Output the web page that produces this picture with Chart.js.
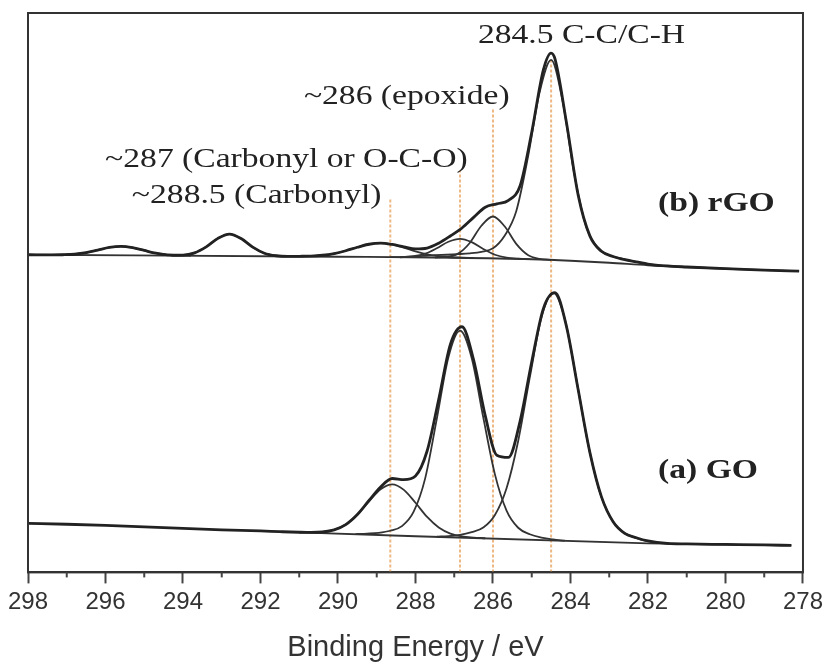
<!DOCTYPE html>
<html>
<head>
<meta charset="utf-8">
<script src="https://cdn.jsdelivr.net/npm/chart.js@4.4.1/dist/chart.umd.min.js"></script>
<style>
  html, body { margin: 0; padding: 0; background: #fff; }
  #wrap { width: 828px; height: 665px; }
</style>
</head>
<body>
<div id="wrap"><canvas id="xps" width="828" height="665"></canvas></div>
<script>
// C 1s spectra, binding energy (eV) vs intensity (arbitrary units, traces offset)

// (a) GO
const goEnergy = [298, 297, 296, 295, 294, 293, 292, 291.5, 291.0, 290.7, 290.4, 290.1, 289.8, 289.5, 289.2, 288.9, 288.6, 288.3, 288.0, 287.7, 287.4, 287.1, 286.8, 286.5, 286.2, 285.9, 285.6, 285.3, 285.0, 284.7, 284.4, 284.1, 283.8, 283.5, 283.2, 282.9, 282.6, 282.3, 282.0, 281.5, 281.0, 280.0, 279.0, 278.3];
const goTotal = [49.0, 48.2, 47.0, 45.6, 44.0, 42.6, 41.5, 40.8, 40.2, 40.0, 40.5, 42.6, 47.9, 58.0, 72.0, 85.5, 94.0, 92.8, 96.5, 121.5, 173.3, 228.2, 245.9, 212.7, 156.9, 117.3, 115.1, 151.5, 210.9, 264.1, 280.0, 245.6, 182.5, 120.2, 75.6, 50.7, 39.1, 34.7, 31.5, 29.0, 28.5, 28.0, 27.5, 27.0];

const goPeak1Energy = [291.0, 290.7, 290.4, 290.1, 289.8, 289.5, 289.2, 288.9, 288.6, 288.3, 288.0, 287.7, 287.4, 287.1, 286.8, 286.5, 286.2];
const goPeak1 = [40.1, 40.0, 40.5, 42.6, 47.9, 57.8, 71.2, 83.3, 88.2, 82.6, 69.7, 55.5, 45.0, 38.9, 36.0, 34.9, 34.2];

const goPeak2Energy = [289.55, 289.25, 288.95, 288.65, 288.35, 288.05, 287.75, 287.45, 287.15, 286.85, 286.55, 286.25, 285.95, 285.65, 285.35, 285.05, 284.75, 284.45, 284.15];
const goPeak2 = [38.3, 38.8, 39.6, 41.7, 46.3, 60.5, 94.1, 153.7, 215.4, 242.0, 214.6, 154.9, 98.1, 61.9, 44.7, 38.2, 34.9, 33.0, 31.7];

const goPeak3Energy = [287.45, 287.15, 286.85, 286.55, 286.25, 285.95, 285.65, 285.35, 285.05, 284.75, 284.45, 284.15, 283.85, 283.55, 283.25, 282.95, 282.65, 282.35, 282.05, 281.75, 281.45];
const goPeak3 = [35.7, 36.4, 37.5, 40.3, 44.9, 57.5, 84.3, 131.6, 195.2, 254.9, 280.0, 254.2, 193.7, 129.4, 81.3, 53.8, 40.5, 35.1, 31.6, 29.9, 28.7];

const goBaseEnergy = [291.0, 282.0, 278.3];
const goBase = [40.1, 29.0, 27.0];

// (b) rGO
const rgoEnergy = [298, 297.4, 297.1, 296.8, 296.5, 296.2, 295.9, 295.6, 295.3, 295.0, 294.7, 294.4, 294.0, 293.7, 293.4, 293.1, 292.8, 292.5, 292.2, 291.9, 291.6, 291.3, 291.0, 290.7, 290.4, 290.1, 289.8, 289.5, 289.2, 288.9, 288.6, 288.3, 288.0, 287.7, 287.4, 287.1, 286.8, 286.5, 286.2, 285.9, 285.6, 285.3, 285.0, 284.7, 284.5, 284.4, 284.1, 283.8, 283.5, 283.2, 282.9, 282.6, 282.3, 282.0, 281.5, 281.0, 280.0, 279.0, 278.1];
const rgoTotal = [318.0, 317.9, 318.0, 318.5, 320.0, 322.6, 325.3, 326.4, 325.1, 322.3, 319.6, 317.9, 317.7, 319.9, 325.9, 334.4, 338.7, 334.2, 325.6, 319.5, 317.0, 316.3, 316.45, 316.7, 317.5, 319.2, 322.0, 325.5, 328.5, 329.6, 328.3, 325.9, 323.85, 324.7, 329.6, 336.8, 344.8, 355.4, 365.5, 369.0, 372.5, 387.1, 440.6, 503.0, 519.8, 514.0, 449.4, 377.4, 336.9, 321.5, 316.2, 313.0, 310.9, 308.7, 306.8, 305.75, 304.0, 302.7, 301.5];

const rgoPeak1Energy = [297.4, 297.1, 296.8, 296.5, 296.2, 295.9, 295.6, 295.3, 295.0, 294.7, 294.4, 294.1, 293.8];
const rgoPeak1 = [317.9, 318.0, 318.5, 320.0, 322.6, 325.3, 326.4, 325.1, 322.3, 319.6, 317.9, 317.2, 317.0];

const rgoPeak2Energy = [294.3, 294.0, 293.7, 293.4, 293.1, 292.8, 292.5, 292.2, 291.9, 291.6, 291.3];
const rgoPeak2 = [317.1, 317.6, 319.9, 325.9, 334.4, 338.7, 334.2, 325.6, 319.5, 317.0, 316.3];

const rgoPeak3Energy = [291.3, 291.0, 290.7, 290.4, 290.1, 289.8, 289.5, 289.2, 288.9, 288.6, 288.3, 288.0, 287.7, 287.4, 287.1, 286.8, 286.5];
const rgoPeak3 = [316.3, 316.5, 316.7, 317.5, 319.2, 322.0, 325.5, 328.5, 329.6, 328.3, 325.1, 321.4, 318.4, 316.5, 315.5, 315.1, 314.6];

const rgoPeak4Energy = [288.65, 288.35, 288.05, 287.75, 287.45, 287.15, 286.85, 286.55, 286.25, 285.95, 285.65, 285.35, 285.05];
const rgoPeak4 = [315.6, 315.7, 316.5, 319.1, 324.5, 331.0, 333.9, 330.6, 323.7, 318.0, 315.1, 314.0, 313.6];

const rgoPeak5Energy = [287.5, 287.2, 286.9, 286.6, 286.3, 286.0, 285.7, 285.4, 285.1, 284.8, 284.5];
const rgoPeak5 = [315.2, 315.8, 319.1, 329.8, 347.0, 356.3, 346.5, 328.9, 317.8, 313.9, 312.8];

const rgoPeak6Energy = [288.4, 288.1, 287.8, 287.5, 287.2, 286.9, 286.6, 286.3, 286.0, 285.7, 285.4, 285.1, 284.8, 284.5, 284.2, 283.9, 283.6, 283.3, 283.0, 282.7, 282.4, 282.0, 281.6];
const rgoPeak6 = [315.5, 316.2, 316.8, 317.6, 318.0, 318.6, 319.4, 320.9, 324.4, 337.0, 361.6, 415.2, 480.0, 513.0, 471.0, 398.5, 346.8, 324.9, 317.5, 314.3, 311.5, 308.7, 306.8];

const rgoBaseEnergy = [298, 290, 287, 285, 284, 283, 282, 280, 278.1];
const rgoBase = [318, 316, 315, 313.5, 312, 310, 307.5, 304, 301.5];

// reference lines for the assigned binding energies
const markerEnergy = [288.65, 286.85, 286.0, 284.5];
const markerTop = [375, 402, 465, 515];

const energyTicks = [298, 296, 294, 292, 290, 288, 286, 284, 282, 280, 278];
const minorTicks = [297, 295, 293, 291, 289, 287, 285, 283, 281, 279];

// text annotations (anchor = left edge, vertical centre, in data units)
const notes = [
  { text: '284.5 C-C/C-H', x: 286.39, y: 537, bold: false },
  { text: '~286 (epoxide)', x: 290.88, y: 476, bold: false },
  { text: '~287 (Carbonyl or O-C-O)', x: 296.01, y: 413, bold: false },
  { text: '~288.5 (Carbonyl)', x: 295.32, y: 377, bold: false },
  { text: '(b) rGO', x: 281.74, y: 369, bold: true },
  { text: '(a) GO', x: 281.74, y: 102, bold: true }
];

const toPoints = (xs, ys) => xs.map((x, i) => ({ x, y: ys[i] }));

const envelope = (xs, ys) => ({
  data: toPoints(xs, ys), borderColor: '#222', borderWidth: 2.8, order: 1
});
const component = (xs, ys) => ({
  data: toPoints(xs, ys), borderColor: '#333', borderWidth: 1.8, order: 2
});

const datasets = [
  envelope(goEnergy, goTotal),
  component(goPeak1Energy, goPeak1),
  component(goPeak2Energy, goPeak2),
  component(goPeak3Energy, goPeak3),
  component(goBaseEnergy, goBase),
  envelope(rgoEnergy, rgoTotal),
  component(rgoPeak1Energy, rgoPeak1),
  component(rgoPeak2Energy, rgoPeak2),
  component(rgoPeak3Energy, rgoPeak3),
  component(rgoPeak4Energy, rgoPeak4),
  component(rgoPeak5Energy, rgoPeak5),
  component(rgoPeak6Energy, rgoPeak6),
  component(rgoBaseEnergy, rgoBase)
];

markerEnergy.forEach((e, i) => {
  datasets.push({
    data: [{ x: e, y: 0 }, { x: e, y: markerTop[i] }],
    borderColor: 'rgba(232, 160, 90, 0.75)',
    borderWidth: 2,
    borderDash: [3, 2],
    cubicInterpolationMode: 'default',
    tension: 0,
    order: 10
  });
});

const frame = {
  id: 'frame',
  afterDraw(chart) {
    const { ctx, chartArea: a, scales: { x } } = chart;
    ctx.save();
    ctx.strokeStyle = '#333';
    ctx.lineWidth = 2;
    ctx.strokeRect(a.left, a.top, a.right - a.left, a.bottom - a.top);
    ctx.strokeStyle = '#444';
    minorTicks.forEach(v => {
      const px = x.getPixelForValue(v);
      ctx.beginPath();
      ctx.moveTo(px, a.bottom);
      ctx.lineTo(px, a.bottom + 5);
      ctx.stroke();
    });
    ctx.restore();
  }
};

const annotate = {
  id: 'annotate',
  afterDatasetsDraw(chart) {
    const { ctx, scales: { x, y } } = chart;
    ctx.save();
    ctx.fillStyle = '#222';
    ctx.textBaseline = 'middle';
    ctx.textAlign = 'left';
    notes.forEach(n => {
      ctx.font = (n.bold ? 'bold ' : '') + '28px "Liberation Serif"';
      ctx.save();
      ctx.translate(x.getPixelForValue(n.x), y.getPixelForValue(n.y));
      ctx.scale(1.2, 1);
      ctx.fillText(n.text, 0, 0);
      ctx.restore();
    });
    ctx.restore();
  }
};

Chart.defaults.font.family = '"Liberation Sans", Arial, sans-serif';

new Chart(document.getElementById('xps'), {
  type: 'line',
  data: { datasets },
  options: {
    responsive: false,
    animation: false,
    events: [],
    layout: { padding: { left: 28, right: 25, top: 13, bottom: 0 } },
    elements: {
      point: { radius: 0 },
      line: { cubicInterpolationMode: 'monotone', fill: false }
    },
    plugins: { legend: { display: false }, tooltip: { enabled: false } },
    scales: {
      x: {
        type: 'linear',
        reverse: true,
        min: 278,
        max: 298,
        afterBuildTicks: scale => { scale.ticks = energyTicks.map(v => ({ value: v })); },
        ticks: { color: '#333', padding: 5, font: { size: 24 }, maxRotation: 0, autoSkip: false },
        grid: { drawOnChartArea: false, drawTicks: true, tickLength: 11, tickColor: '#444', tickWidth: 2 },
        border: { display: true, color: '#333', width: 2 },
        title: {
          display: true,
          text: 'Binding Energy / eV',
          color: '#333',
          font: { size: 29 },
          padding: { top: 8, bottom: 0 }
        }
      },
      y: { type: 'linear', min: 0, max: 560, display: false }
    }
  },
  plugins: [annotate, frame]
});
</script>
</body>
</html>
